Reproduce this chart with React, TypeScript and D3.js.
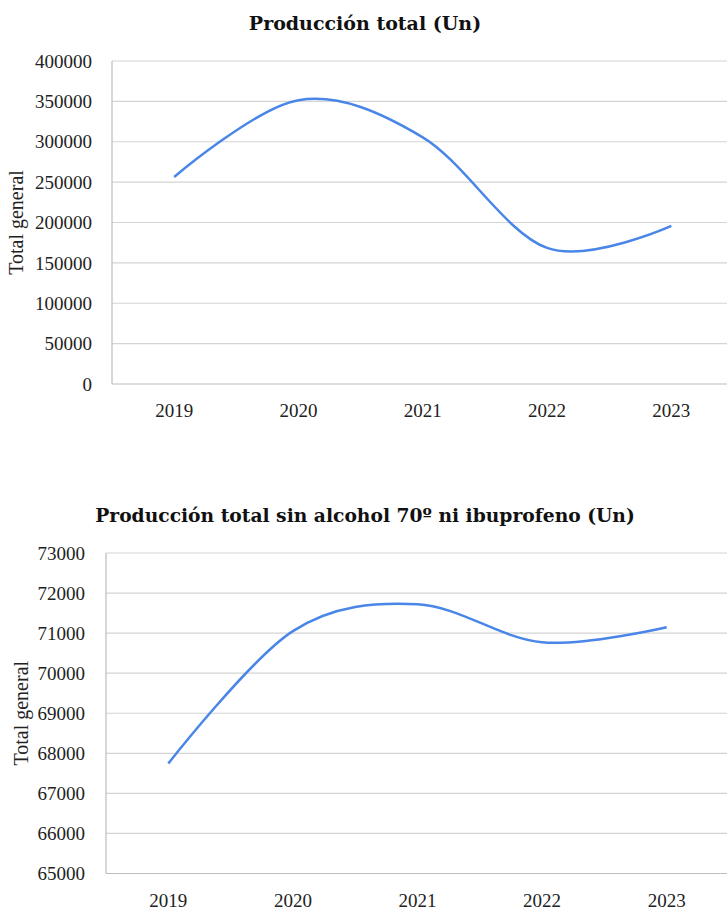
import * as d3 from "d3";

const years = ["2019", "2020", "2021", "2022", "2023"];
const totalValues = [256300, 351500, 305500, 168500, 195700];
const totalTicks = [0, 50000, 100000, 150000, 200000, 250000, 300000, 350000, 400000];
const sinValues = [67745, 71050, 71720, 70770, 71145];
const sinTicks = [65000, 66000, 67000, 68000, 69000, 70000, 71000, 72000, 73000];

const FONT = "'Liberation Serif', 'DejaVu Serif', serif";
const TITLE_FONT = "'DejaVu Serif', 'Liberation Serif', serif";

interface PanelProps {
  title: string;
  titleY: number;
  titleSize: number;
  values: number[];
  ticks: number[];
  left: number;
  top: number;
  bottom: number;
  step: number;
  tickX: number;
  yTitleX: number;
}

function Panel({ title, titleY, titleSize, values, ticks, left, top, bottom, step, tickX, yTitleX }: PanelProps) {
  const x = d3
    .scaleBand<string>()
    .domain(years)
    .range([left, left + step * years.length]);
  const y = d3
    .scaleLinear()
    .domain([ticks[0], ticks[ticks.length - 1]])
    .range([bottom, top]);

  // excel-style smoothed line
  const line = d3
    .line<number>()
    .x((_, i) => (x(years[i]) as number) + x.bandwidth() / 2)
    .y((d) => y(d))
    .curve(d3.curveCardinal.tension(0));

  const right = 727;
  const midY = (top + bottom) / 2;

  return (
    <g>
      <text
        x={365}
        y={titleY}
        textAnchor="middle"
        fontFamily={TITLE_FONT}
        fontWeight="bold"
        fontSize={titleSize}
        fill="#111"
      >
        {title}
      </text>
      {ticks.map((t) => (
        <g key={t}>
          {t !== ticks[0] && (
            <line x1={left} x2={right} y1={y(t)} y2={y(t)} stroke="#d4d4d4" strokeWidth={1.2} />
          )}
          <text
            x={tickX}
            y={y(t)}
            dy="0.35em"
            textAnchor="end"
            fontFamily={FONT}
            fontSize={19}
            fill="#222"
          >
            {t}
          </text>
        </g>
      ))}
      <line x1={left} x2={left} y1={top} y2={bottom} stroke="#bdbdbd" strokeWidth={1.2} />
      <line x1={left} x2={right} y1={bottom} y2={bottom} stroke="#bdbdbd" strokeWidth={1.2} />
      {years.map((yr) => (
        <text
          key={yr}
          x={(x(yr) as number) + x.bandwidth() / 2}
          y={bottom + 33}
          textAnchor="middle"
          fontFamily={FONT}
          fontSize={19}
          fill="#222"
        >
          {yr}
        </text>
      ))}
      <text
        transform={`translate(${yTitleX},${midY}) rotate(-90)`}
        textAnchor="middle"
        fontFamily={FONT}
        fontSize={20}
        fill="#222"
      >
        Total general
      </text>
      <path d={line(values) || ""} fill="none" stroke="#4a86e8" strokeWidth={2.5} />
    </g>
  );
}

export default function App() {
  return (
    <svg
      width={727}
      height={909}
      style={{ position: "absolute", left: 0, top: 0, background: "#fff" }}
    >
      <rect width={727} height={909} fill="#fff" />
      <Panel
        title="Producción total (Un)"
        titleY={30}
        titleSize={19}
        values={totalValues}
        ticks={totalTicks}
        left={112}
        top={61}
        bottom={384}
        step={124.3}
        tickX={92}
        yTitleX={23}
      />
      <Panel
        title="Producción total sin alcohol 70º ni ibuprofeno (Un)"
        titleY={522}
        titleSize={18.7}
        values={sinValues}
        ticks={sinTicks}
        left={106}
        top={553}
        bottom={873.5}
        step={124.6}
        tickX={85}
        yTitleX={28}
      />
    </svg>
  );
}
